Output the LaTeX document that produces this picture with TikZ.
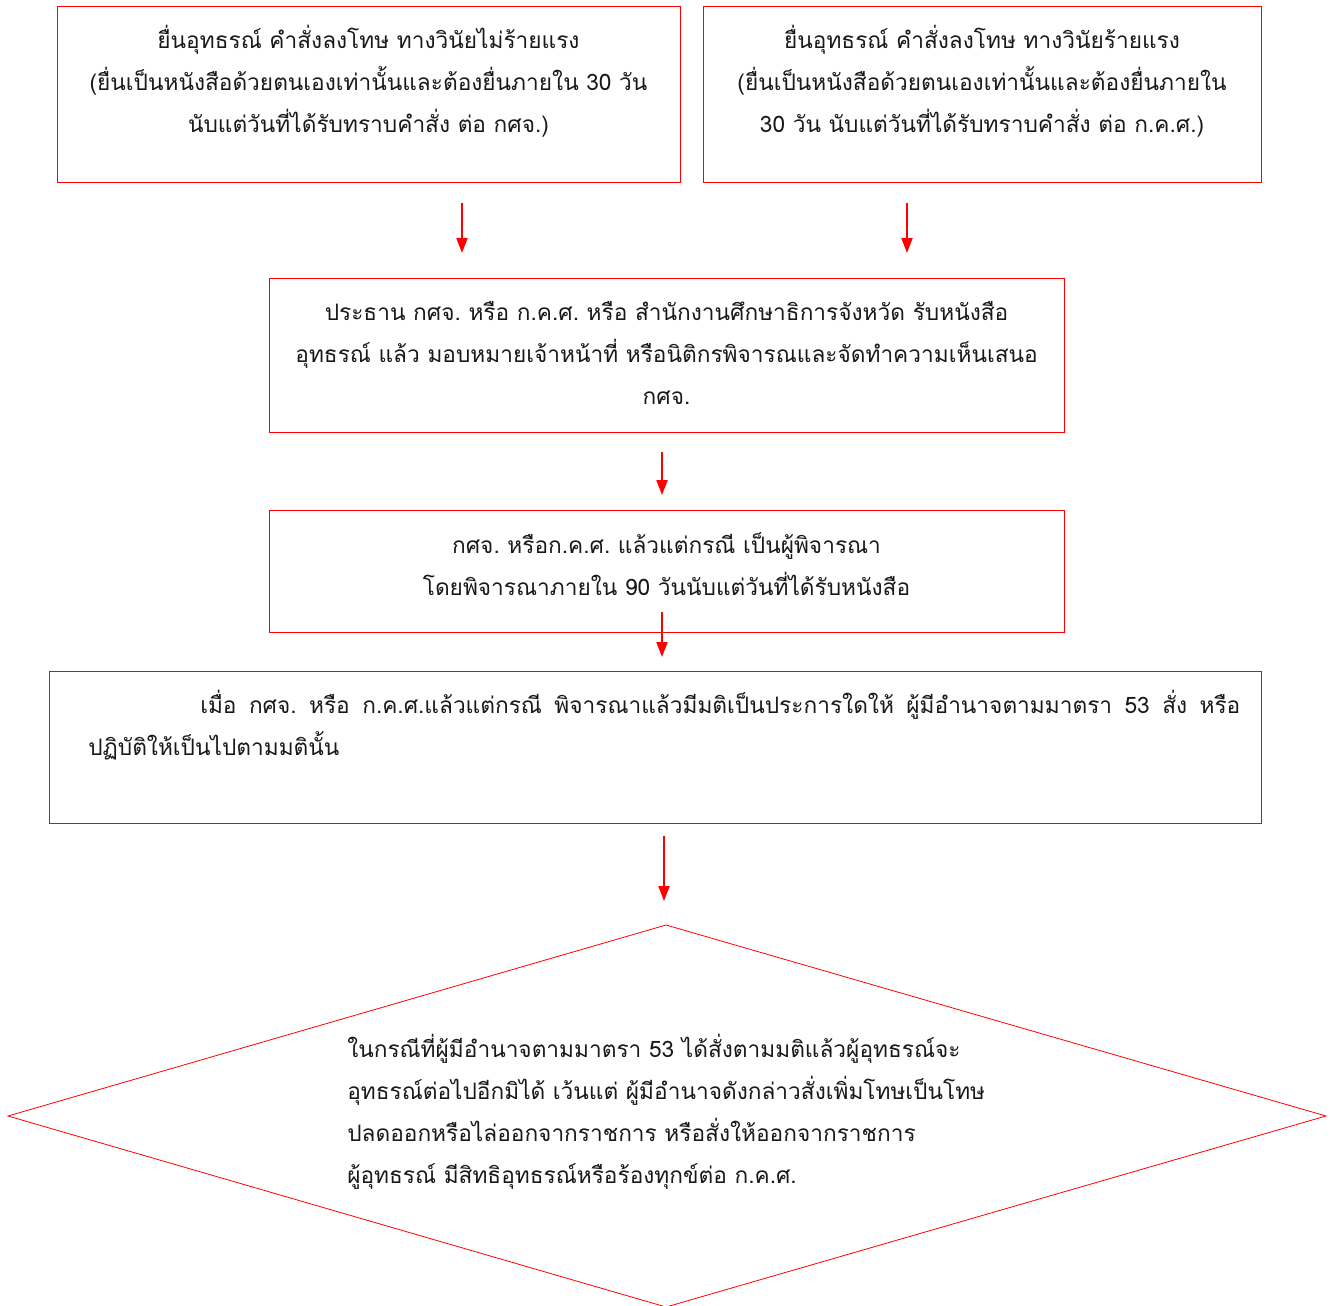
\documentclass[tikz,border=0pt]{standalone}
\usepackage{fontspec}
\newfontfamily\thaifont[Script=Thai]{Loma}
\usetikzlibrary{arrows.meta}
\frenchspacing
\begin{document}
\begin{tikzpicture}[x=0.75pt,y=-0.75pt,
  box/.style={draw=red, line width=0.6pt, inner sep=0pt, outer sep=0pt, rectangle},
  txt/.style={font=\thaifont\fontsize{17}{31.5}\selectfont, align=center, inner sep=0pt, text=black!90},
  arr/.style={draw=red, line width=1.5pt, -{Triangle[width=8.25pt,length=11.25pt]}},
]
\useasboundingbox (0,0) rectangle (1333,1305);
% boxes
\node[box, minimum width=467.25pt, minimum height=132pt] (a) at (368.5,94) {};
\node[box, minimum width=418.5pt, minimum height=132pt] (b) at (982,94) {};
\node[box, minimum width=596.25pt, minimum height=115.5pt] (c) at (666.5,355) {};
\node[box, minimum width=596.25pt, minimum height=91.5pt] (d) at (666.5,571) {};
\node[box, minimum width=909pt, minimum height=114pt] (e) at (655,747) {};
% diamond
\coordinate (dt) at (666,925);
\coordinate (dl) at (8,1116);
\coordinate (dr) at (1326,1116);
\coordinate (db) at (666,1307);
\draw[draw=red, line width=0.6pt] (dt) -- (dr) -- (db) -- (dl) -- cycle;
% texts
\node[txt] (ta) at (368.5,81) {ยื่นอุทธรณ์ คำสั่งลงโทษ ทางวินัยไม่ร้ายแรง\\(ยื่นเป็นหนังสือด้วยตนเองเท่านั้นและต้องยื่นภายใน 30 วัน\\นับแต่วันที่ได้รับทราบคำสั่ง ต่อ กศจ.)};
\node[txt] (tb) at (982,81) {ยื่นอุทธรณ์ คำสั่งลงโทษ ทางวินัยร้ายแรง\\(ยื่นเป็นหนังสือด้วยตนเองเท่านั้นและต้องยื่นภายใน\\30 วัน นับแต่วันที่ได้รับทราบคำสั่ง ต่อ ก.ค.ศ.)};
\node[txt] (tc) at (666.5,353) {ประธาน กศจ. หรือ ก.ค.ศ. หรือ สำนักงานศึกษาธิการจังหวัด รับหนังสือ\\อุทธรณ์ แล้ว มอบหมายเจ้าหน้าที่ หรือนิติกรพิจารณและจัดทำความเห็นเสนอ\\กศจ.};
\node[txt] (td) at (666.5,564.5) {กศจ. หรือก.ค.ศ. แล้วแต่กรณี เป็นผู้พิจารณา\\โดยพิจารณาภายใน 90 วันนับแต่วันที่ได้รับหนังสือ};
\node[txt, align=left, anchor=west] (te) at (88,725) {\hspace*{84pt}\makebox[780pt][s]{เมื่อ กศจ. หรือ ก.ค.ศ.แล้วแต่กรณี พิจารณาแล้วมีมติเป็นประการใดให้ ผู้มีอำนาจตามมาตรา 53 สั่ง หรือ}\\ปฏิบัติให้เป็นไปตามมตินั้น};
\node[txt, align=left, anchor=west] (tf) at (347,1112) {ในกรณีที่ผู้มีอำนาจตามมาตรา 53 ได้สั่งตามมติแล้วผู้อุทธรณ์จะ\\อุทธรณ์ต่อไปอีกมิได้ เว้นแต่ ผู้มีอำนาจดังกล่าวสั่งเพิ่มโทษเป็นโทษ\\ปลดออกหรือไล่ออกจากราชการ หรือสั่งให้ออกจากราชการ\\ผู้อุทธรณ์ มีสิทธิอุทธรณ์หรือร้องทุกข์ต่อ ก.ค.ศ.};
% arrows
\coordinate (p1) at (462,203); \coordinate (q1) at (462,253);
\coordinate (p2) at (907,203); \coordinate (q2) at (907,253);
\coordinate (p3) at (662,452); \coordinate (q3) at (662,495);
\coordinate (p4) at (662,612); \coordinate (q4) at (662,657);
\coordinate (p5) at (664,836); \coordinate (q5) at (664,901);
\draw[arr] (p1) -- (q1);
\draw[arr] (p2) -- (q2);
\draw[arr] (p3) -- (q3);
\draw[arr] (p4) -- (q4);
\draw[arr] (p5) -- (q5);
\end{tikzpicture}
\end{document}
